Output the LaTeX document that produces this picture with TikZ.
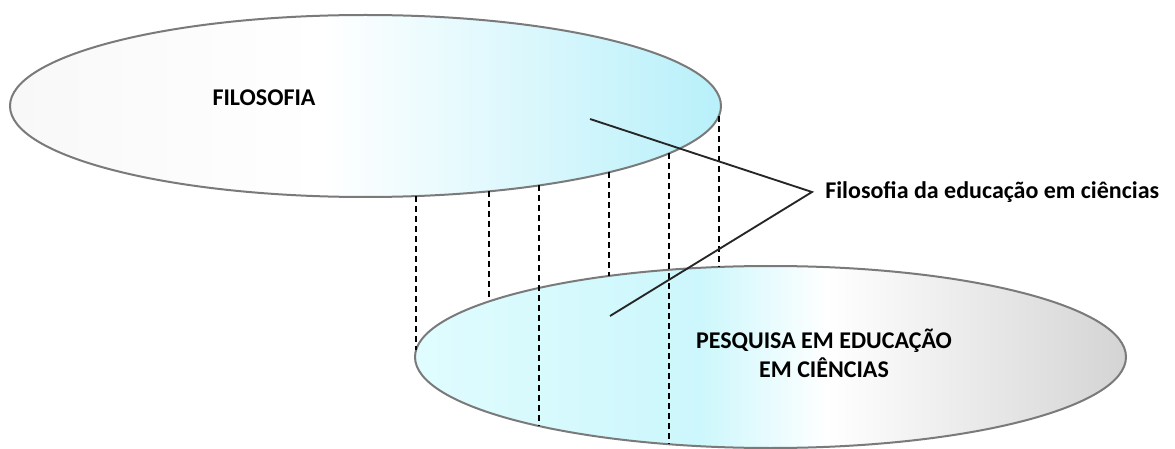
\documentclass[tikz,border=0pt]{standalone}
\usepackage{fontspec}
\setmainfont{Carlito}
\usetikzlibrary{positioning,shapes.geometric}

\definecolor{rimgray}{HTML}{7A7A7A}
\definecolor{leftgray}{HTML}{F8F8F8}
\definecolor{topcyan}{HTML}{B8F0FA}
\definecolor{lowcyanl}{HTML}{E0FCFE}
\definecolor{lowcyan}{HTML}{CCF7FC}
\definecolor{rightgray}{HTML}{D4D4D4}

\pgfdeclarehorizontalshading{filoshade}{100bp}{color(0bp)=(leftgray); color(25bp)=(leftgray); color(47bp)=(white); color(75bp)=(topcyan); color(100bp)=(topcyan)}
\pgfdeclarehorizontalshading{pesqshade}{100bp}{color(0bp)=(lowcyanl); color(25bp)=(lowcyanl); color(45bp)=(lowcyan); color(54bp)=(white); color(75bp)=(rightgray); color(100bp)=(rightgray)}

\begin{document}
\begin{tikzpicture}[x=.75pt,y=-.75pt,
  disc/.style={ellipse,draw=rimgray,line width=1.5pt,inner sep=0pt,minimum width=533.25pt,minimum height=136.5pt},
  guide/.style={line width=1.1pt,dash pattern=on 4.5pt off 3pt},
  link/.style={line width=1.4pt,draw=black!85},
  lbl/.style={font=\bfseries\fontsize{18}{22}\selectfont,inner sep=0pt,align=center}]
\path[use as bounding box] (0,0) rectangle (1175,449);
% the two fields
\node[disc,shading=filoshade] (filo) at (365.5,106) {};
\node[disc,shading=pesqshade] (pesq) at (770.5,357) {};
\node[lbl] (filotxt) at (264,98) {FILOSOFIA};
\node[lbl] (pesqtxt) at (824,353) {PESQUISA EM EDUCAÇÃO\\EM CIÊNCIAS};
% projection lines
\foreach \x/\ya/\yb in {416/196/350,489/191/301,539/185/426,609/172/276,669/153/444,719/116/267}
  \draw[guide] (\x,\ya) -- (\x,\yb);
% overlap label
\node[lbl,anchor=west] (fec) at (825,192) {Filosofia da educação em ciências};
\coordinate[left=9.75pt of fec] (fork);
\coordinate (filopt) at (590,119);
\coordinate (pesqpt) at (610,316);
\draw[link] (filopt) -- (fork) -- (pesqpt);
\end{tikzpicture}
\end{document}
